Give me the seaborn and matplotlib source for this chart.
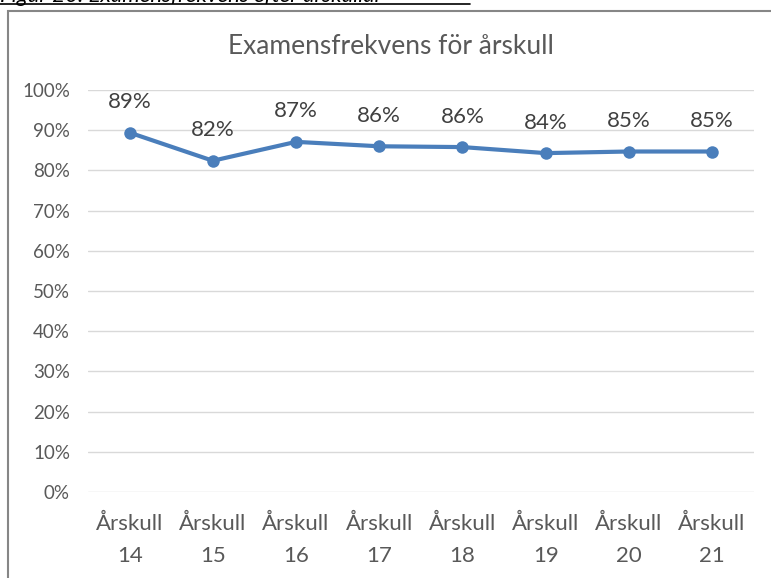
import matplotlib
matplotlib.use("Agg")
import matplotlib.pyplot as plt
from matplotlib.patches import Rectangle
from matplotlib.lines import Line2D
from matplotlib.ticker import PercentFormatter, MultipleLocator
import seaborn as sns
import pandas as pd

categories = ["Årskull\n14", "Årskull\n15", "Årskull\n16", "Årskull\n17",
              "Årskull\n18", "Årskull\n19", "Årskull\n20", "Årskull\n21"]
values = [89.4, 82.4, 87.1, 86.0, 85.8, 84.3, 84.7, 84.7]
labels = ["89%", "82%", "87%", "86%", "86%", "84%", "85%", "85%"]
title = "Examensfrekvens för årskull"
caption = "Figur 20. Examensfrekvens efter årskullar"

sns.set_theme(style="white")
plt.rcParams['font.family'] = ['Lato', 'DejaVu Sans']

df = pd.DataFrame({"cat": categories, "val": values})

fig = plt.figure(figsize=(7.71, 5.78), dpi=100)
ax = fig.add_axes([88/771, 1-492/578, (753.6-88)/771, (492-90)/578])

sns.lineplot(data=df, x="cat", y="val", sort=False, ax=ax, color="#4a7ebb",
             linewidth=3, marker="o", markersize=9, markeredgewidth=0, zorder=3)

ax.set_xlim(-0.5, len(categories)-0.5)
ax.set_ylim(0, 100)
ax.yaxis.set_major_locator(MultipleLocator(10))
ax.yaxis.set_major_formatter(PercentFormatter(decimals=0))
ax.grid(axis="y", color="#d9d9d9", linewidth=1)
ax.set_axisbelow(True)
for s in ax.spines.values():
    s.set_visible(False)
ax.tick_params(axis="both", length=0, labelcolor="#595959")
ax.tick_params(axis="y", pad=13, labelsize=13.5)
ax.tick_params(axis="x", pad=16, labelsize=16)
for t in ax.get_xticklabels():
    t.set_linespacing(1.75)
ax.set_xlabel("")
ax.set_ylabel("")

for i, (v, lab) in enumerate(zip(values, labels)):
    ax.annotate(lab, (i, v), xytext=(0, 22), textcoords="offset points",
                ha="center", va="center", fontsize=16, color="#404040")

fig.text(391/771, 1-47/578, title, ha="center", va="center",
         fontsize=19, color="#595959")

# chart border (cut off at right/bottom like the screenshot)
fig.patches.append(Rectangle((7.5/771, -0.05), 1.1, 1-11/578+0.05,
                             transform=fig.transFigure, fill=False,
                             edgecolor="#868686", linewidth=1.5))
# clipped caption above
fig.text(0.0, 1-1.5/578, caption, ha="left", va="baseline", fontsize=16,
         color="black", fontstyle="italic")
fig.lines.append(Line2D([0, 470/771], [1-3.5/578, 1-3.5/578],
                        transform=fig.transFigure, color="black", linewidth=1.2))

fig.savefig("out.png", dpi=100)
